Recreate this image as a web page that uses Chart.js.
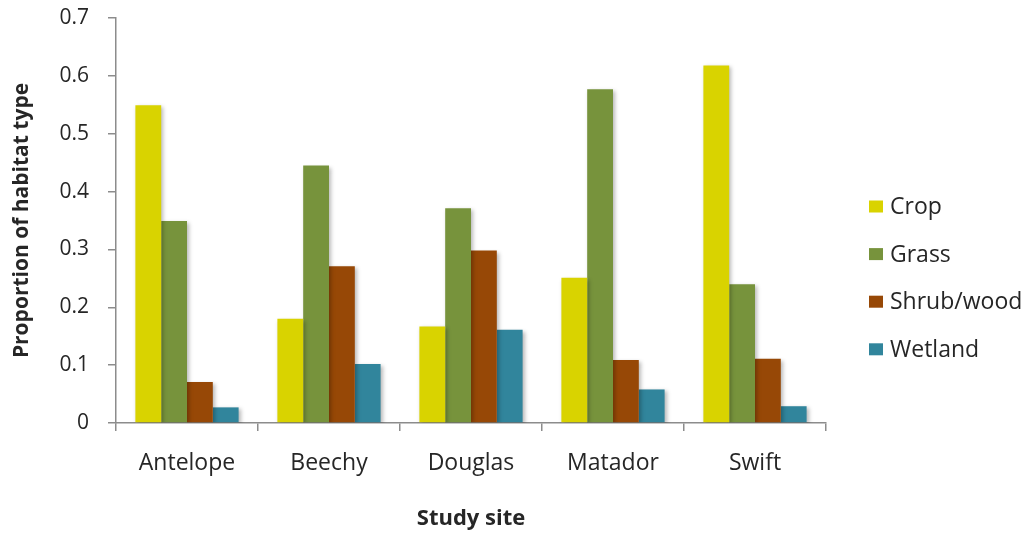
<!DOCTYPE html>
<html>
<head>
<meta charset="utf-8">
<script src="https://cdn.jsdelivr.net/npm/chart.js@4"></script>
<style>
  html, body { margin: 0; padding: 0; background: #ffffff; }
  #wrap { width: 1028px; height: 533px; position: relative; }
</style>
</head>
<body>
<div id="wrap"><canvas id="chart" width="1028" height="533"></canvas></div>
<script>
// Study sites and habitat proportions per site
const sites = ['Antelope', 'Beechy', 'Douglas', 'Matador', 'Swift'];
const crop = [0.549, 0.180, 0.167, 0.251, 0.618];
const grass = [0.349, 0.445, 0.371, 0.577, 0.240];
const shrubWood = [0.071, 0.271, 0.298, 0.109, 0.111];
const wetland = [0.027, 0.102, 0.161, 0.058, 0.029];
const seriesNames = ['Crop', 'Grass', 'Shrub/wood', 'Wetland'];
const seriesColors = ['#D9D300', '#77933C', '#974806', '#31859C'];
const yTicks = [0, 0.1, 0.2, 0.3, 0.4, 0.5, 0.6, 0.7];

const FONT = "'Open Sans', 'DejaVu Sans', sans-serif";
const TEXT = '#262626';
const AXIS = '#8c8c8c';

const seriesValues = [crop, grass, shrubWood, wetland];
const datasets = seriesValues.map((vals, i) => ({
  label: seriesNames[i],
  data: vals,
  backgroundColor: seriesColors[i],
  borderWidth: 0,
  categoryPercentage: 0.727,
  barPercentage: 1.0
}));

// soft drop shadow under the bars
const barShadow = {
  id: 'barShadow',
  beforeDatasetsDraw(chart) {
    const ctx = chart.ctx;
    ctx.save();
    ctx.shadowColor = 'rgba(0,0,0,0.28)';
    ctx.shadowBlur = 4;
    ctx.shadowOffsetX = 2;
    ctx.shadowOffsetY = 2;
  },
  afterDatasetsDraw(chart) {
    chart.ctx.restore();
  }
};

// vertical legend to the right of the plot
const sideLegend = {
  id: 'sideLegend',
  afterDraw(chart) {
    const ctx = chart.ctx;
    const x0 = chart.chartArea.right + 43;
    const yStart = 206.5;
    const step = 47.6;
    ctx.save();
    ctx.font = "23px " + FONT;
    ctx.textBaseline = 'middle';
    ctx.textAlign = 'left';
    chart.data.datasets.forEach((ds, i) => {
      const cy = yStart + i * step;
      ctx.fillStyle = ds.backgroundColor;
      ctx.fillRect(x0, cy - 6, 14, 12);
      ctx.fillStyle = TEXT;
      ctx.fillText(ds.label, x0 + 21, cy + 1);
    });
    ctx.restore();
  }
};

new Chart(document.getElementById('chart'), {
  type: 'bar',
  data: { labels: sites, datasets: datasets },
  options: {
    responsive: false,
    animation: false,
    events: [],
    layout: { padding: { left: 0, right: 202, top: 18, bottom: 0 } },
    plugins: {
      legend: { display: false },
      tooltip: { enabled: false }
    },
    scales: {
      x: {
        grid: {
          display: true,
          drawOnChartArea: false,
          drawTicks: true,
          tickLength: 8,
          color: AXIS,
          lineWidth: 1.5,
          offset: true
        },
        border: { display: true, color: AXIS, width: 1.5 },
        ticks: {
          color: TEXT,
          font: { family: FONT, size: 23 },
          padding: 19,
          maxRotation: 0
        },
        title: {
          display: true,
          text: 'Study site',
          color: TEXT,
          font: { family: FONT, size: 22, weight: 'bold' },
          padding: { top: 0, bottom: 1 }
        },
        afterFit(scale) {
          scale.height = 110;
          scale.paddingLeft = 0;
          scale.paddingRight = 0;
        }
      },
      y: {
        min: 0,
        max: 0.7,
        afterBuildTicks(scale) {
          scale.ticks = yTicks.map(v => ({ value: v }));
        },
        grid: {
          display: true,
          drawOnChartArea: false,
          drawTicks: true,
          tickLength: 8,
          color: AXIS,
          lineWidth: 1.5
        },
        border: { display: true, color: AXIS, width: 1.5 },
        ticks: {
          color: TEXT,
          font: { family: FONT, size: 21 },
          padding: 19,
          callback: (v) => String(Math.round(v * 10) / 10)
        },
        title: {
          display: true,
          text: 'Proportion of habitat type',
          color: TEXT,
          font: { family: FONT, size: 21, weight: 'bold' },
          padding: { top: 9, bottom: 0 }
        },
        afterFit(scale) {
          scale.width = 116;
          scale.paddingTop = 0;
          scale.paddingBottom = 0;
        }
      }
    }
  },
  plugins: [barShadow, sideLegend]
});
</script>
</body>
</html>
